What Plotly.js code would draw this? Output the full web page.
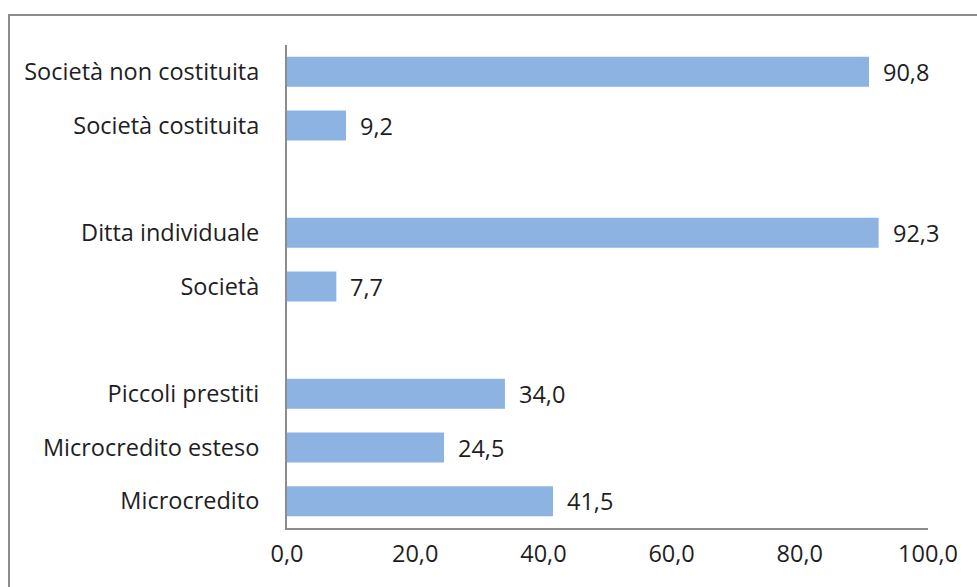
<!DOCTYPE html>
<html>
<head>
<meta charset="utf-8">
<script src="https://cdn.plot.ly/plotly-3.0.1.min.js"></script>
<style>
html,body{margin:0;padding:0;background:#fff;overflow:hidden;}
#frame{position:absolute;left:8px;top:14px;width:1200px;height:1000px;border:2px solid #8c8c8c;box-sizing:border-box;}
#chart{position:absolute;left:0;top:0;width:977px;height:587px;}
</style>
</head>
<body>
<div id="frame"></div>
<div id="chart"></div>
<script>
// Categories from bottom to top; blank entries are the gaps between groups
var categories = ["Microcredito", "Microcredito esteso", "Piccoli prestiti", " ",
                  "Società", "Ditta individuale", "  ",
                  "Società costituita", "Società non costituita"];
var values = [41.5, 24.5, 34.0, null, 7.7, 92.3, null, 9.2, 90.8];
var tickValsX = [0, 20, 40, 60, 80, 100];

var FONT = "'Open Sans', sans-serif";
var FS = 23.5;

var annotations = [];
categories.forEach(function(c, i){
  if (values[i] === null) return;
  annotations.push({
    x: values[i], y: c, xref: 'x', yref: 'y',
    text: values[i].toFixed(1).replace('.', ','),
    showarrow: false, xanchor: 'left', xshift: 12,
    font: {family: FONT, size: FS, color: '#1e1e1e'}
  });
});

var trace = {
  type: 'bar', orientation: 'h',
  x: values, y: categories,
  marker: {color: '#8db3e2', line: {width: 0}},
  hoverinfo: 'none'
};

var layout = {
  width: 977, height: 587,
  margin: {l: 287, r: 49, t: 45, b: 59},
  paper_bgcolor: 'rgba(0,0,0,0)', plot_bgcolor: 'rgba(0,0,0,0)',
  showlegend: false,
  bargap: 0.44,
  separators: ',.',
  font: {family: FONT, size: FS, color: '#1e1e1e'},
  xaxis: {
    range: [0, 100], tickvals: tickValsX, tickformat: '.1f',
    showgrid: false, zeroline: false,
    showline: true, linecolor: '#8c8c8c', linewidth: 2,
    ticks: '', ticklabelstandoff: 4,
    tickfont: {family: FONT, size: FS, color: '#1e1e1e'},
    fixedrange: true
  },
  yaxis: {
    type: 'category', categoryorder: 'array', categoryarray: categories,
    range: [-0.5, 8.5],
    showgrid: false, zeroline: false,
    showline: true, linecolor: '#8c8c8c', linewidth: 2,
    ticks: '', ticklabelstandoff: 21,
    tickfont: {family: FONT, size: FS, color: '#1e1e1e'},
    fixedrange: true
  },
  annotations: annotations
};

Plotly.newPlot('chart', [trace], layout, {displayModeBar: false, staticPlot: true});
</script>
</body>
</html>
